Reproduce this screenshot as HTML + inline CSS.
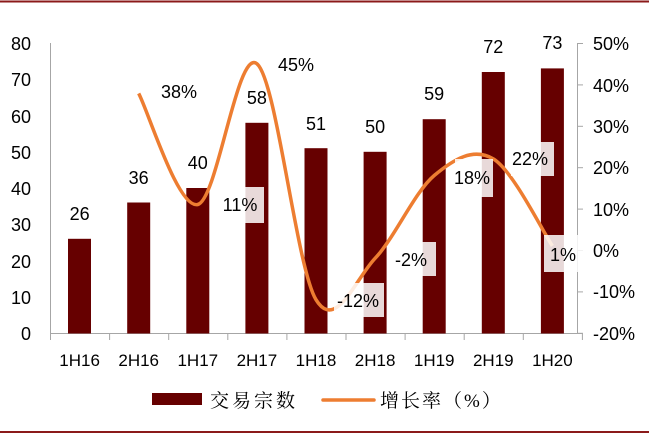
<!DOCTYPE html>
<html><head><meta charset="utf-8"><style>
body{margin:0;background:#fff;}
svg text{font-family:"Liberation Sans",sans-serif;fill:#000;}
</style></head><body>
<svg width="649" height="435" viewBox="0 0 649 435" xmlns="http://www.w3.org/2000/svg">
<line x1="0" y1="1.5" x2="649" y2="1.5" stroke="#8b1a1a" stroke-width="2"/>
<line x1="0" y1="432" x2="649" y2="432" stroke="#8b1a1a" stroke-width="2"/>
<!-- axes -->
<g stroke="#a6a6a6" stroke-width="1">
<line x1="50.5" y1="43" x2="50.5" y2="333"/>
<line x1="50" y1="333.5" x2="582" y2="333.5"/>
<line x1="577.5" y1="43" x2="577.5" y2="333"/>
<line x1="577" y1="43.5" x2="583" y2="43.5"/><line x1="577" y1="84.9" x2="583" y2="84.9"/><line x1="577" y1="126.3" x2="583" y2="126.3"/><line x1="577" y1="167.7" x2="583" y2="167.7"/><line x1="577" y1="209.1" x2="583" y2="209.1"/><line x1="577" y1="250.5" x2="583" y2="250.5"/><line x1="577" y1="291.9" x2="583" y2="291.9"/><line x1="577" y1="333.3" x2="583" y2="333.3"/>
<line x1="50.5" y1="333" x2="50.5" y2="340"/><line x1="109.6" y1="333" x2="109.6" y2="340"/><line x1="168.7" y1="333" x2="168.7" y2="340"/><line x1="227.8" y1="333" x2="227.8" y2="340"/><line x1="286.9" y1="333" x2="286.9" y2="340"/><line x1="346" y1="333" x2="346" y2="340"/><line x1="405.1" y1="333" x2="405.1" y2="340"/><line x1="464.2" y1="333" x2="464.2" y2="340"/><line x1="523.3" y1="333" x2="523.3" y2="340"/><line x1="582.4" y1="333" x2="582.4" y2="340"/>
</g>
<!-- left labels -->
<g font-size="18" text-anchor="end">
<text x="31" y="340">0</text><text x="31" y="304">10</text><text x="31" y="268">20</text><text x="31" y="231">30</text><text x="31" y="195">40</text><text x="31" y="159">50</text><text x="31" y="123">60</text><text x="31" y="86">70</text><text x="31" y="50">80</text>
</g>
<g font-size="18" text-anchor="start">
<text x="593" y="50">50%</text><text x="593" y="92">40%</text><text x="593" y="133">30%</text><text x="593" y="174">20%</text><text x="593" y="216">10%</text><text x="593" y="257">0%</text><text x="593" y="298">-10%</text><text x="593" y="340">-20%</text>
</g>
<g font-size="17" text-anchor="middle">
<text x="79.6" y="366">1H16</text><text x="138.7" y="366">2H16</text><text x="197.8" y="366">1H17</text><text x="256.9" y="366">2H17</text><text x="316" y="366">1H18</text><text x="375.1" y="366">2H18</text><text x="434.2" y="366">1H19</text><text x="493.3" y="366">2H19</text><text x="552.4" y="366">1H20</text>
</g>
<!-- bars -->
<g fill="#660000">
<rect x="68" y="238.8" width="23" height="94.7"/>
<rect x="127.2" y="202.5" width="23" height="131"/>
<rect x="186.3" y="188" width="23" height="145.5"/>
<rect x="245.4" y="122.8" width="23" height="210.7"/>
<rect x="304.5" y="148.2" width="23" height="185.3"/>
<rect x="363.6" y="151.8" width="23" height="181.7"/>
<rect x="422.7" y="119.2" width="23" height="214.3"/>
<rect x="481.8" y="72" width="23" height="261.5"/>
<rect x="540.9" y="68.4" width="23" height="265.1"/>
</g>
<g font-size="18" text-anchor="middle">
<text x="79.6" y="220">26</text><text x="138.7" y="184">36</text><text x="197.8" y="169">40</text><text x="256.9" y="104">58</text><text x="316" y="130">51</text><text x="375.1" y="133">50</text><text x="434.2" y="100">59</text><text x="493.3" y="53">72</text><text x="552.4" y="49">73</text>
</g>
<!-- line -->
<path d="M138.7,93.4 C148.55,111.9 178.1,209.45 197.8,204.5 C217.5,199.55 237.2,47.83 256.9,63.7 C276.6,79.57 296.3,267.27 316,299.7 C335.7,332.13 355.4,279 375.1,258.3 C394.8,237.6 414.5,192.07 434.2,175.5 C453.9,158.93 473.6,147.17 493.3,158.9 C513,170.63 542.55,231.4 552.4,245.9" fill="none" stroke="#ED7D31" stroke-width="3.5"/>
<!-- pct label boxes -->
<g fill="#fff" fill-opacity="0.85">
<rect x="218" y="187" width="46" height="36"/>
<rect x="334" y="283" width="50" height="34"/>
<rect x="390" y="242" width="46" height="34"/>
<rect x="455" y="159" width="38" height="38"/>
<rect x="511" y="142" width="43" height="34"/>
<rect x="544" y="235" width="40" height="37"/>
</g>
<g font-size="18" text-anchor="middle">
<text x="179" y="98">38%</text><text x="240" y="211">11%</text><text x="296" y="71">45%</text><text x="358" y="307">-12%</text><text x="411" y="266">-2%</text><text x="472" y="184">18%</text><text x="530" y="165">22%</text><text x="563" y="261">1%</text>
</g>
<!-- legend -->
<rect x="152" y="393" width="50" height="12" fill="#660000"/>
<text x="210" y="407" font-size="19" style='font-family:"Liberation Serif","Noto Serif CJK SC",serif' letter-spacing="3">交易宗数</text>
<line x1="323" y1="400" x2="374" y2="400" stroke="#ED7D31" stroke-width="3.5" stroke-linecap="round"/>
<text x="380" y="407" font-size="19" style='font-family:"Liberation Serif","Noto Serif CJK SC",serif' letter-spacing="2">增长率（%）</text>
</svg>
</body></html>
